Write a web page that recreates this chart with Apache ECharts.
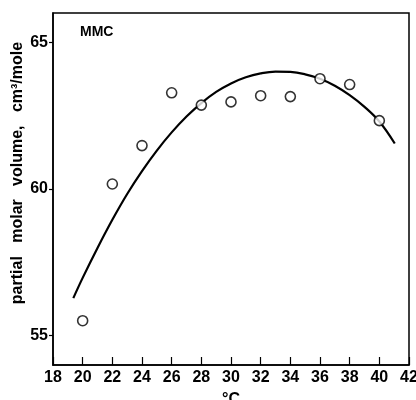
<!DOCTYPE html>
<html>
<head>
<meta charset="utf-8">
<script src="https://cdn.jsdelivr.net/npm/echarts@6/dist/echarts.min.js"></script>
<style>html,body{margin:0;padding:0;background:#fff}#c{width:416px;height:400px}</style>
</head>
<body>
<div id="c"></div>
<script>
const pointTemps = [20, 22, 24, 26, 28, 30, 32, 34, 36, 38, 40];
const pointVolumes = [55.51, 60.17, 61.48, 63.28, 62.86, 62.97, 63.18, 63.15, 63.76, 63.56, 62.33];
const curveTemps = [19.37, 20, 21, 22, 23, 24, 25, 26, 27, 28, 29, 30, 31, 32, 33, 34, 35, 36, 37, 38, 39, 40, 41.04];
const curveVolumes = [56.28, 56.97, 57.99, 58.95, 59.83, 60.61, 61.31, 61.93, 62.47, 62.93, 63.31, 63.6, 63.81, 63.94, 64.0, 63.99, 63.91, 63.76, 63.52, 63.2, 62.8, 62.3, 61.55];
const yTickValues = [55, 60, 65];
const labelText = 'MMC';
const xName = '°C';
const yName = 'partial   molar   volume,   cm³/mole';

const font = "'Liberation Sans Narrow', 'Liberation Sans', sans-serif";
const chart = echarts.init(document.getElementById('c'), null, {renderer: 'canvas'});
chart.setOption({
  animation: false,
  backgroundColor: '#fff',
  title: {
    text: labelText, left: 80, top: 25, padding: 0,
    textStyle: {fontFamily: font, fontSize: 14, fontWeight: 'bold', color: '#000'}
  },
  grid: {left: 53, right: 7, top: 13, bottom: 35, outerBoundsMode: 'none', containLabel: false, show: true, borderColor: '#000', borderWidth: 1.5, backgroundColor: 'transparent'},
  xAxis: {
    type: 'value', min: 18, max: 42, interval: 2,
    name: xName, nameLocation: 'middle', nameGap: 27,
    nameTextStyle: {fontFamily: font, fontSize: 16, fontWeight: 'bold', color: '#000'},
    axisLine: {show: true, lineStyle: {color: '#000', width: 1.5}},
    axisTick: {show: true, inside: true, length: 8, lineStyle: {color: '#000', width: 1.2}},
    axisLabel: {fontFamily: font, fontSize: 16, fontWeight: 'bold', color: '#000', margin: 5},
    splitLine: {show: false}
  },
  yAxis: {
    type: 'value', min: 54, max: 66, interval: 1,
    name: yName, nameLocation: 'middle', nameGap: 27, nameMoveOverlap: false,
    nameTextStyle: {fontFamily: font, fontSize: 16, fontWeight: 'bold', color: '#000', padding: [0, 0, 0, 32]},
    axisLine: {show: true, lineStyle: {color: '#000', width: 1.5}},
    axisTick: {show: true, inside: false, length: 4, customValues: yTickValues, lineStyle: {color: '#000', width: 1.2}},
    axisLabel: {fontFamily: font, fontSize: 16, fontWeight: 'bold', color: '#000', margin: 5, customValues: yTickValues},
    splitLine: {show: false}
  },
  series: [
    {
      type: 'line', smooth: 0.4, showSymbol: false,
      data: curveTemps.map((t, i) => [t, curveVolumes[i]]),
      lineStyle: {color: '#000', width: 2.2},
      z: 2
    },
    {
      type: 'scatter', symbol: 'circle', symbolSize: 10,
      data: pointTemps.map((t, i) => [t, pointVolumes[i]]),
      itemStyle: {color: '#fff', borderColor: '#000', borderWidth: 1.6},
      z: 3
    }
  ]
});
</script>
</body>
</html>
